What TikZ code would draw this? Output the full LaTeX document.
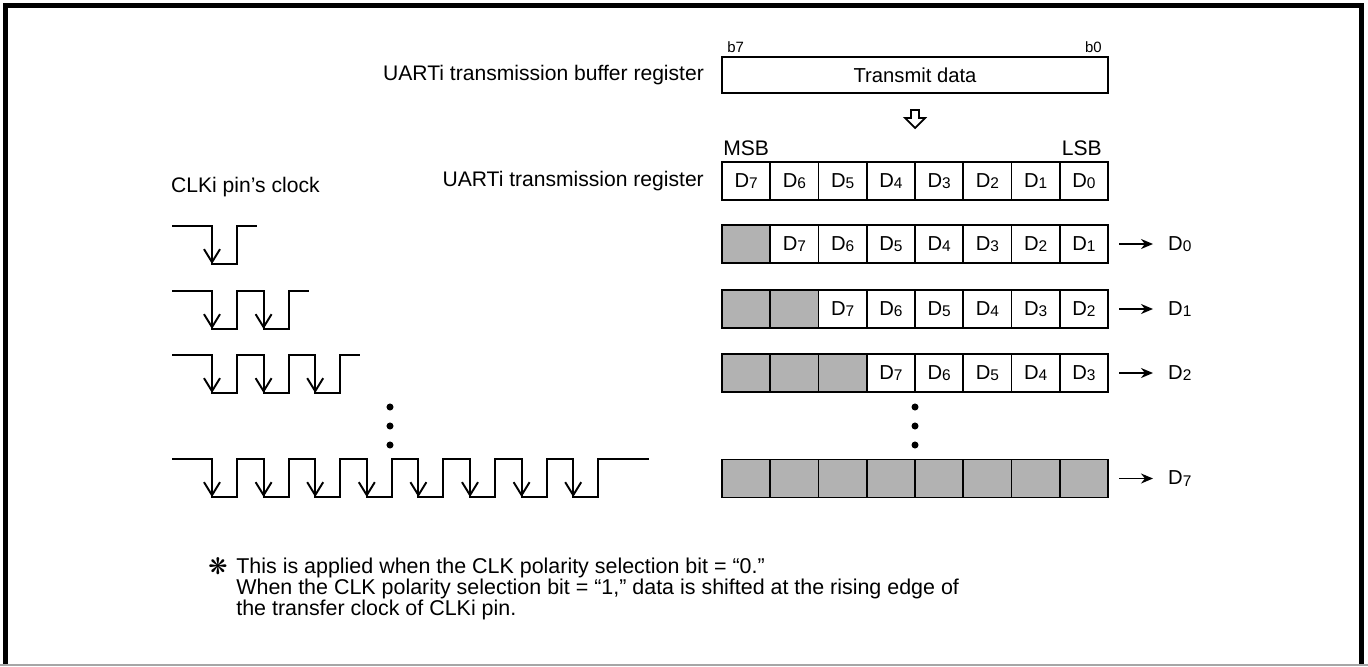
\documentclass[tikz,border=0pt]{standalone}
\usepackage{fontspec}
\setmainfont{Liberation Sans}
\newfontfamily\symfont{DejaVu Sans}
\usetikzlibrary{arrows.meta, positioning, calc}
\newcommand{\Dn}[1]{D\raisebox{-0.15ex}{\fontsize{8.8}{9}\selectfont #1}}

\begin{document}
\begin{tikzpicture}[x=0.02cm, y=-0.02cm, >=Stealth, font=\fontsize{12}{12.5}\selectfont,
    cell/.style={draw, line width=1pt, minimum width=0.965cm, minimum height=0.76cm, inner sep=0pt, outer sep=0pt, font=\fontsize{11.5}{12}\selectfont},
    graycell/.style={cell, fill=black!30},
    wave/.style={line width=1.1pt},
    outarrow/.style={line width=1pt, -{Stealth[length=0.24cm, width=0.2cm]}, shorten <=0.22cm, shorten >=0.18cm}]
  \useasboundingbox (0,0) rectangle (1368,666);
  % frame
  \draw[line width=2.8pt] (5.5,666) -- (5.5,5.5) -- (1361.5,5.5) -- (1361.5,666);
  \draw[black!35, line width=0.6pt] (0,665) -- (1368,665);

  % transmit buffer
  \node[cell, minimum width=7.72cm, minimum height=0.72cm] (buf) at (915,75) {Transmit data};
  \node[left=0.24cm of buf] (buflbl) {UARTi transmission buffer register};
  \node[font=\fontsize{8.5}{9}\selectfont, anchor=base west, inner sep=0pt] (b7) at (727,52) {b7};
  \node[font=\fontsize{8.5}{9}\selectfont, anchor=base east, inner sep=0pt] (b0) at (1102,52) {b0};
  \draw[line width=1pt, fill=white] (911,110) -- (919,110) -- (919,118) -- (925,118) -- (915,128) -- (905,118) -- (911,118) -- cycle;

  % transmission register
  \foreach \k in {1,...,8} {
    \pgfmathtruncatemacro{\bit}{8-\k}
    \node[cell] (reg-\k) at ({722+48.25*(\k-0.5)},181) {\Dn{\bit}};
  }
  \node[left=0.24cm of reg-1] (reglbl) {UARTi transmission register};
  \node[anchor=base west, inner sep=0pt] (msb) at (723,155) {MSB};
  \node[anchor=base east, inner sep=0pt] (lsb) at (1102,155) {LSB};

  % shifted contents
  \foreach \r/\yc in {1/244, 2/309, 3/373} {
    \foreach \k in {1,...,8} {
      \pgfmathtruncatemacro{\bit}{8-\k+\r}
      \ifnum\k>\r
        \node[cell] (row\r-\k) at ({722+48.25*(\k-0.5)},\yc) {\Dn{\bit}};
      \else
        \node[graycell] (row\r-\k) at ({722+48.25*(\k-0.5)},\yc) {};
      \fi
    }
    \pgfmathtruncatemacro{\bit}{\r-1}
    \node[anchor=west, font=\fontsize{11.5}{12}\selectfont] (out\r) at (1162,\yc) {\Dn{\bit}};
    \draw[outarrow] (row\r-8) -- (out\r);
  }
  \foreach \k in {1,...,8}
    \node[graycell] (row8-\k) at ({722+48.25*(\k-0.5)},478.5) {};
  \node[anchor=west, font=\fontsize{11.5}{12}\selectfont] (out8) at (1162,478.5) {\Dn{7}};
  \draw[outarrow] (row8-8) -- (out8);

  \foreach \yy in {407, 426, 445} {
    \fill (915,\yy) circle (2pt);
    \fill (390,\yy) circle (2pt);
  }

  % clock pulses
  \node[anchor=west] (clklbl) at (165,187) {CLKi pin’s clock};
  \foreach \n/\h/\t in {1/226/20, 2/291/20, 3/355/20, 8/459/51} {
    \draw[wave] (172,\h) foreach \p in {1,...,\n} {
      -- ({212+51.6*(\p-1)},\h) -- ++(0,38) -- ++(25,0) -- ++(0,-38)
    } -- ++(\t,0);
    \foreach \p in {1,...,\n}
      \draw[wave, -{Straight Barb[length=0.26cm, width=0.32cm]}] ({212+51.6*(\p-1)},\h) -- ++(0,38);
  }

  % note
  \node[font=\symfont\fontsize{13}{13}\selectfont, inner sep=0pt] (mark) at (218,566) {❋};
  \node[anchor=north west, align=left, inner sep=0pt, font=\fontsize{12.2}{11.8}\selectfont] (note) at (236,558) {This is applied when the CLK polarity selection bit = “0.”\\When the CLK polarity selection bit = “1,” data is shifted at the rising edge of\\the transfer clock of CLKi pin.};
\end{tikzpicture}
\end{document}
